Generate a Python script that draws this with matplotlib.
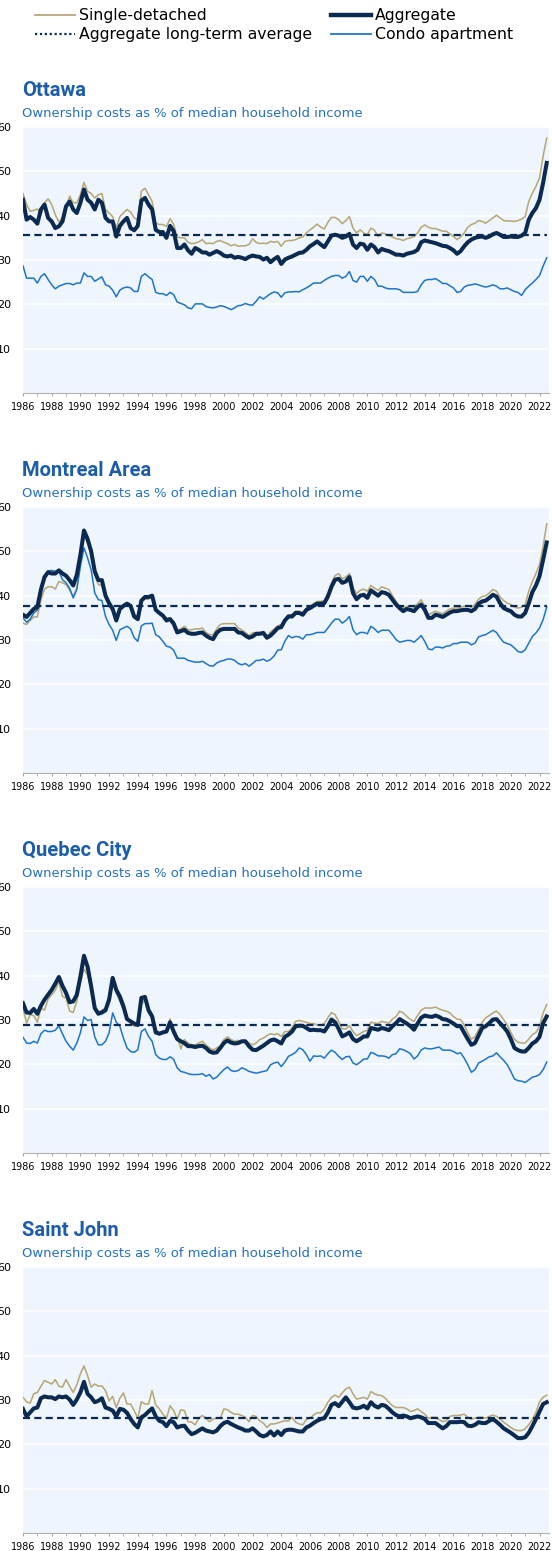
import numpy as np
import pandas as pd
import matplotlib
matplotlib.use("Agg")
import matplotlib.pyplot as plt
from matplotlib.lines import Line2D

# quarterly observations, 1986Q1 .. 2022Q3
QUARTERS = pd.period_range("1986Q1", "2022Q3", freq="Q")

ottawa_single = [
    45.0, 42.5, 41.0, 41.2, 41.5, 40.2, 42.9, 43.8, 42.5, 40.2,
    38.6, 39.5, 41.7, 44.4, 42.9, 42.9, 44.7, 47.5, 45.5, 45.0,
    44.0, 44.7, 45.0, 41.4, 40.6, 39.8, 37.2, 39.8, 40.6, 41.4,
    40.8, 39.5, 39.1, 45.5, 46.2, 44.7, 43.2, 38.3, 38.0, 38.0,
    37.6, 39.3, 38.0, 35.2, 35.0, 35.0, 34.0, 33.7, 33.8, 34.1,
    34.6, 33.7, 33.8, 33.7, 34.2, 34.4, 34.0, 33.7, 33.2, 33.5,
    33.1, 33.2, 33.2, 33.5, 34.8, 34.0, 33.7, 33.8, 33.7, 34.2,
    34.0, 34.2, 33.1, 34.2, 34.4, 34.4, 34.6, 35.0, 35.2, 36.1,
    36.8, 37.4, 38.1, 37.4, 37.0, 38.5, 39.6, 39.6, 39.1, 38.2,
    38.9, 39.8, 37.2, 36.1, 36.8, 36.1, 35.7, 37.2, 36.7, 35.3,
    36.1, 35.9, 35.5, 35.2, 34.8, 34.7, 34.4, 34.8, 35.0, 35.3,
    36.1, 37.4, 37.9, 37.4, 37.1, 37.1, 36.8, 36.5, 36.5, 35.9,
    35.3, 34.6, 35.2, 36.1, 37.4, 38.0, 38.3, 38.9, 38.7, 38.3,
    38.9, 39.5, 40.1, 39.5, 38.9, 38.8, 38.8, 38.7, 38.9, 39.2,
    39.8, 43.2, 45.1, 46.6, 48.5, 53.4, 57.5]
ottawa_aggregate = [
    43.6, 39.1, 39.7, 39.1, 38.2, 41.4, 42.5, 39.5, 38.7, 37.2,
    37.6, 38.7, 42.1, 43.2, 41.4, 40.6, 42.9, 45.9, 43.6, 42.9,
    41.4, 43.6, 42.9, 39.5, 38.7, 38.7, 35.3, 37.7, 38.7, 39.5,
    37.2, 36.7, 37.7, 43.4, 44.0, 42.5, 41.4, 36.8, 36.3, 36.3,
    35.0, 37.7, 36.5, 32.7, 32.7, 33.5, 32.2, 31.4, 32.7, 32.3,
    31.7, 31.7, 31.2, 31.6, 32.0, 31.6, 31.0, 30.8, 31.0, 30.5,
    30.7, 30.5, 30.2, 30.7, 31.0, 30.8, 30.7, 30.1, 30.5, 29.5,
    30.2, 30.7, 29.1, 30.1, 30.5, 30.8, 31.2, 31.6, 31.7, 32.3,
    33.1, 33.6, 34.2, 33.5, 32.9, 34.2, 35.5, 35.7, 35.5, 35.0,
    35.3, 35.9, 33.5, 32.7, 33.7, 33.5, 32.3, 33.5, 32.9, 31.7,
    32.5, 32.2, 32.0, 31.6, 31.2, 31.2, 31.0, 31.4, 31.6, 31.8,
    32.3, 34.0, 34.4, 34.2, 34.0, 33.8, 33.5, 33.2, 33.1, 32.7,
    32.2, 31.4, 32.0, 33.1, 34.0, 34.6, 35.0, 35.2, 35.3, 35.0,
    35.3, 35.8, 36.1, 35.7, 35.2, 35.2, 35.3, 35.2, 35.2, 35.5,
    36.1, 39.1, 40.6, 41.7, 43.6, 47.4, 51.9]
ottawa_condo = [
    28.7, 25.9, 25.9, 25.9, 24.8, 26.3, 26.9, 25.6, 24.4, 23.5,
    24.1, 24.4, 24.7, 24.7, 24.4, 24.8, 24.8, 27.1, 26.3, 26.3,
    25.2, 25.7, 26.2, 24.4, 24.1, 23.2, 21.7, 23.2, 23.7, 23.9,
    23.7, 22.9, 22.9, 26.3, 26.9, 26.2, 25.6, 22.7, 22.4, 22.4,
    22.0, 22.7, 22.2, 20.5, 20.2, 19.9, 19.2, 19.0, 20.1, 20.1,
    20.1, 19.5, 19.3, 19.2, 19.4, 19.7, 19.5, 19.2, 18.8, 19.2,
    19.7, 19.8, 20.2, 19.9, 19.8, 20.7, 21.7, 21.2, 21.8, 22.4,
    22.8, 22.6, 21.6, 22.6, 22.8, 22.8, 22.9, 22.8, 23.3, 23.7,
    24.2, 24.8, 24.8, 24.8, 25.4, 25.9, 26.3, 26.5, 26.5, 25.9,
    26.3, 27.4, 25.4, 25.0, 26.3, 26.3, 25.2, 26.3, 25.6, 24.1,
    24.1, 23.7, 23.5, 23.5, 23.5, 23.3, 22.7, 22.7, 22.7, 22.7,
    22.9, 24.4, 25.4, 25.6, 25.6, 25.8, 25.3, 24.7, 24.7, 24.2,
    23.7, 22.7, 22.9, 23.9, 24.3, 24.4, 24.6, 24.4, 24.1, 23.9,
    24.1, 24.4, 24.1, 23.5, 23.5, 23.7, 23.3, 22.9, 22.7, 22.0,
    23.3, 24.1, 24.8, 25.6, 26.5, 28.6, 30.5]

montreal_single = [
    33.8, 33.5, 34.4, 35.2, 35.2, 39.1, 41.5, 42.0, 42.0, 41.5,
    43.2, 42.9, 42.5, 41.2, 39.8, 41.7, 48.5, 53.4, 51.9, 49.6,
    44.7, 42.5, 42.3, 39.5, 37.6, 36.5, 34.2, 36.8, 37.4, 38.0,
    37.7, 35.7, 35.3, 38.7, 39.2, 39.2, 39.8, 36.8, 36.2, 35.5,
    35.0, 35.0, 34.2, 32.2, 32.5, 33.1, 32.3, 32.3, 32.5, 32.5,
    32.7, 31.7, 31.2, 31.2, 32.5, 33.5, 33.7, 33.7, 33.7, 33.7,
    32.7, 32.3, 31.7, 31.0, 31.6, 31.7, 31.7, 31.7, 30.8, 31.8,
    32.5, 33.2, 33.5, 34.7, 35.7, 35.7, 36.5, 36.5, 36.1, 37.2,
    37.6, 38.2, 38.7, 38.7, 38.9, 40.6, 42.9, 44.5, 45.0, 43.8,
    44.2, 45.0, 41.7, 40.5, 41.2, 41.5, 41.0, 42.3, 41.7, 41.2,
    42.0, 41.7, 41.4, 40.0, 38.7, 37.7, 37.2, 37.6, 37.6, 37.4,
    38.2, 39.1, 37.6, 35.7, 36.1, 36.5, 36.2, 35.9, 36.5, 37.0,
    37.2, 37.2, 37.4, 37.6, 37.7, 37.4, 38.0, 39.2, 39.8, 40.0,
    40.6, 41.4, 41.0, 39.7, 38.9, 38.3, 38.0, 37.4, 37.2, 37.4,
    38.0, 41.0, 43.2, 45.0, 47.0, 51.1, 56.2]
montreal_aggregate = [
    35.7, 35.2, 36.1, 37.0, 37.4, 41.4, 44.2, 45.3, 45.0, 45.0,
    45.7, 45.0, 44.5, 43.5, 42.3, 44.7, 49.2, 54.7, 52.8, 50.0,
    45.5, 43.5, 43.5, 40.0, 38.3, 37.0, 34.4, 37.0, 37.7, 38.2,
    37.7, 35.3, 34.7, 38.9, 39.7, 39.7, 40.0, 36.8, 36.1, 35.5,
    34.4, 34.7, 33.7, 31.7, 32.0, 32.3, 31.6, 31.4, 31.4, 31.6,
    31.7, 31.0, 30.5, 30.2, 31.6, 32.3, 32.5, 32.5, 32.5, 32.5,
    31.7, 31.6, 31.0, 30.5, 30.8, 31.4, 31.4, 31.6, 30.5, 31.0,
    31.8, 32.7, 32.9, 34.4, 35.3, 35.3, 36.1, 36.1, 35.7, 36.8,
    37.2, 37.7, 38.2, 38.2, 38.3, 39.8, 42.0, 43.6, 43.8, 42.9,
    43.2, 44.2, 40.6, 39.2, 40.0, 40.2, 39.5, 41.2, 40.6, 40.0,
    40.8, 40.6, 40.2, 39.1, 38.0, 37.2, 36.5, 37.0, 36.8, 36.5,
    37.4, 38.0, 36.8, 35.0, 35.0, 35.7, 35.5, 35.2, 35.7, 36.2,
    36.5, 36.5, 36.7, 36.8, 36.8, 36.5, 37.0, 38.2, 38.7, 38.9,
    39.5, 40.2, 39.8, 38.3, 37.2, 36.8, 36.5, 35.7, 35.3, 35.3,
    36.1, 38.3, 40.8, 42.3, 44.4, 48.1, 52.0]
montreal_condo = [
    35.0, 34.0, 34.7, 36.1, 36.7, 41.4, 43.6, 45.5, 45.7, 45.5,
    45.5, 43.6, 42.9, 41.7, 39.5, 41.4, 46.6, 50.8, 48.5, 45.9,
    40.6, 39.1, 38.9, 35.3, 33.5, 32.2, 29.9, 32.3, 32.7, 33.1,
    32.5, 30.5, 29.7, 33.2, 33.7, 33.7, 33.8, 31.2, 30.7, 29.7,
    28.6, 28.4, 27.7, 25.9, 25.9, 25.9, 25.4, 25.2, 25.0, 25.0,
    25.2, 24.7, 24.2, 24.1, 24.8, 25.2, 25.4, 25.7, 25.7, 25.4,
    24.7, 24.4, 24.7, 24.1, 24.7, 25.4, 25.4, 25.7, 25.2, 25.6,
    26.4, 27.7, 27.8, 29.7, 31.0, 30.5, 30.8, 30.7, 30.2, 31.2,
    31.2, 31.4, 31.7, 31.7, 31.7, 32.7, 33.8, 34.7, 34.7, 33.8,
    34.4, 35.3, 32.3, 31.2, 31.7, 31.7, 31.4, 33.1, 32.5, 31.7,
    32.2, 32.2, 32.2, 31.2, 30.1, 29.5, 29.7, 29.9, 29.9, 29.5,
    30.2, 31.0, 29.7, 28.0, 27.8, 28.4, 28.4, 28.2, 28.6, 28.7,
    29.2, 29.2, 29.5, 29.5, 29.5, 28.9, 29.3, 30.7, 31.0, 31.2,
    31.7, 32.2, 31.7, 30.5, 29.5, 29.2, 28.9, 28.2, 27.4, 27.2,
    27.8, 29.3, 30.8, 31.6, 32.7, 34.6, 37.4]

quebec_single = [
    32.7, 29.3, 31.2, 31.0, 29.5, 32.7, 32.2, 34.7, 35.7, 36.7,
    38.7, 35.3, 35.0, 32.0, 31.7, 34.2, 38.3, 41.5, 40.2, 36.8,
    32.7, 31.7, 32.2, 32.7, 34.2, 38.7, 36.1, 34.2, 32.3, 30.1,
    29.3, 28.6, 28.6, 33.5, 34.6, 32.7, 31.2, 27.8, 27.2, 27.4,
    27.8, 30.2, 27.1, 26.3, 23.5, 25.6, 24.8, 24.4, 24.4, 24.8,
    25.2, 24.4, 23.7, 23.2, 23.7, 24.1, 25.6, 26.2, 25.6, 25.2,
    25.4, 24.9, 25.2, 24.8, 24.4, 24.8, 25.6, 25.9, 26.5, 26.9,
    26.7, 26.9, 26.3, 27.4, 27.4, 28.2, 29.7, 29.9, 29.7, 29.5,
    29.2, 29.2, 28.9, 28.9, 29.2, 30.5, 31.7, 31.2, 29.7, 28.0,
    28.0, 28.7, 27.4, 26.5, 26.9, 27.4, 27.7, 29.5, 29.3, 29.2,
    29.7, 29.5, 29.3, 30.2, 30.8, 32.0, 31.6, 30.8, 30.1, 29.7,
    31.0, 32.2, 32.7, 32.7, 32.7, 32.9, 32.5, 32.2, 32.0, 31.6,
    30.8, 30.2, 30.1, 28.9, 27.1, 25.7, 26.2, 27.8, 29.5, 30.5,
    31.0, 31.6, 32.0, 31.2, 30.1, 28.9, 27.2, 25.7, 25.0, 24.8,
    24.8, 25.7, 26.7, 27.2, 28.6, 31.6, 33.5]
quebec_aggregate = [
    33.8, 31.7, 31.6, 32.5, 31.4, 33.2, 34.6, 35.7, 36.8, 38.2,
    39.7, 37.7, 36.1, 34.0, 34.2, 35.7, 39.8, 44.5, 42.0, 37.6,
    32.7, 31.4, 31.7, 32.2, 34.6, 39.5, 36.8, 35.3, 33.1, 30.2,
    29.7, 29.2, 28.9, 35.0, 35.2, 32.2, 30.8, 27.2, 26.9, 27.2,
    27.4, 29.5, 27.4, 25.7, 25.2, 24.8, 24.1, 24.1, 23.9, 24.1,
    24.2, 23.7, 22.9, 22.6, 22.7, 23.7, 24.8, 25.4, 24.9, 24.7,
    24.8, 25.2, 25.2, 24.1, 23.3, 23.2, 23.7, 24.2, 24.8, 25.4,
    25.6, 25.2, 24.7, 26.2, 26.7, 27.4, 28.6, 28.7, 28.7, 28.2,
    27.7, 27.8, 27.7, 27.7, 27.4, 28.6, 30.1, 29.5, 28.0, 26.3,
    26.7, 27.2, 25.7, 25.2, 25.7, 26.3, 26.3, 28.2, 28.0, 27.8,
    28.2, 28.0, 27.7, 28.6, 29.3, 30.2, 29.7, 29.2, 28.6, 27.8,
    29.2, 30.5, 31.0, 30.8, 30.7, 31.0, 30.7, 30.2, 30.1, 29.7,
    29.2, 28.6, 28.6, 27.1, 25.7, 24.4, 24.8, 26.5, 28.2, 28.6,
    29.3, 30.1, 30.2, 29.3, 28.4, 27.4, 25.7, 23.7, 23.2, 22.9,
    22.9, 23.7, 24.7, 25.2, 26.2, 29.3, 30.8]
quebec_condo = [
    26.1, 24.8, 24.7, 25.2, 24.8, 26.9, 27.7, 27.4, 27.4, 27.7,
    28.7, 26.9, 25.2, 24.1, 23.2, 24.8, 27.1, 30.7, 29.9, 30.1,
    26.2, 24.4, 24.4, 25.2, 27.1, 31.6, 29.5, 28.6, 25.9, 23.7,
    22.9, 22.7, 23.3, 27.4, 28.0, 26.3, 25.2, 22.2, 21.4, 21.1,
    21.1, 21.7, 21.1, 19.2, 18.4, 18.2, 17.9, 17.7, 17.7, 17.7,
    17.9, 17.3, 17.7, 16.7, 17.1, 18.0, 18.8, 19.4, 18.6, 18.4,
    18.6, 19.2, 18.9, 18.4, 18.2, 18.0, 18.2, 18.4, 18.6, 19.9,
    20.3, 20.5, 19.5, 20.5, 21.8, 22.2, 22.7, 23.7, 23.3, 22.2,
    20.7, 21.9, 21.8, 21.9, 21.4, 22.4, 23.2, 22.7, 21.8, 21.1,
    21.7, 21.8, 20.3, 19.9, 20.5, 21.2, 21.2, 22.7, 22.4, 21.9,
    21.9, 21.8, 21.4, 22.2, 22.4, 23.5, 23.3, 22.9, 22.4, 21.2,
    21.9, 23.2, 23.7, 23.5, 23.5, 23.7, 23.9, 23.2, 23.2, 23.2,
    22.9, 22.4, 22.6, 21.4, 19.9, 18.2, 18.8, 20.3, 20.7, 21.2,
    21.7, 21.9, 22.6, 21.7, 20.9, 19.9, 18.4, 16.7, 16.3, 16.2,
    15.9, 16.5, 17.1, 17.3, 17.7, 18.8, 20.5]

saintjohn_single = [
    30.6, 29.6, 29.3, 31.4, 31.7, 33.1, 34.4, 34.0, 33.6, 34.6,
    33.1, 32.9, 34.6, 33.1, 31.7, 33.4, 35.9, 37.7, 35.5, 32.9,
    33.6, 33.1, 33.2, 32.1, 29.8, 30.8, 28.3, 30.4, 31.6, 29.1,
    29.1, 27.6, 25.9, 29.6, 29.1, 29.1, 32.1, 28.9, 28.0, 26.8,
    25.9, 28.7, 27.6, 25.7, 27.8, 27.6, 25.1, 25.0, 24.4, 25.9,
    26.5, 25.9, 25.1, 25.7, 25.9, 25.9, 28.0, 27.8, 27.2, 26.8,
    26.8, 26.5, 26.1, 25.1, 26.5, 26.3, 25.3, 24.8, 23.8, 24.6,
    24.6, 24.8, 25.1, 25.3, 25.3, 26.1, 25.0, 24.6, 24.4, 25.6,
    25.9, 26.6, 27.1, 27.1, 28.0, 29.5, 30.6, 31.1, 30.6, 31.6,
    32.5, 32.9, 31.4, 30.2, 30.4, 30.6, 30.2, 31.9, 31.4, 31.1,
    31.0, 30.4, 29.5, 28.7, 28.3, 28.3, 28.3, 28.0, 27.4, 27.6,
    28.0, 27.4, 26.8, 25.9, 26.1, 26.1, 25.6, 25.1, 25.3, 26.3,
    26.5, 26.5, 26.6, 26.8, 26.1, 25.7, 25.9, 26.1, 26.1, 25.9,
    26.3, 26.6, 26.3, 25.7, 25.0, 24.4, 23.8, 23.3, 23.1, 23.1,
    23.5, 24.4, 25.6, 27.2, 29.6, 30.6, 31.1]
saintjohn_aggregate = [
    28.0, 26.3, 27.2, 28.1, 28.3, 30.4, 30.8, 30.6, 30.6, 30.2,
    30.8, 30.6, 30.8, 30.1, 28.9, 30.1, 31.7, 34.1, 31.4, 30.6,
    29.5, 29.8, 30.4, 28.3, 28.0, 27.6, 26.3, 28.0, 27.8, 27.1,
    25.7, 24.6, 23.8, 26.1, 26.6, 27.4, 28.1, 26.3, 25.3, 25.0,
    24.1, 25.3, 25.0, 23.8, 24.1, 24.2, 23.1, 22.3, 22.6, 23.1,
    23.6, 23.1, 22.9, 22.7, 23.1, 24.1, 24.8, 25.1, 24.6, 24.2,
    23.8, 23.5, 23.1, 23.1, 23.6, 22.9, 22.1, 21.8, 22.1, 22.9,
    22.0, 22.9, 22.1, 23.1, 23.3, 23.3, 23.1, 22.9, 22.9, 23.8,
    24.2, 24.8, 25.3, 25.7, 25.9, 27.2, 28.9, 29.3, 28.6, 29.6,
    30.6, 29.5, 28.3, 28.1, 28.3, 28.7, 28.1, 29.5, 28.7, 28.3,
    28.9, 28.7, 28.0, 27.2, 26.6, 26.3, 26.5, 26.3, 25.9, 26.1,
    26.3, 26.1, 25.7, 24.8, 24.8, 24.8, 24.2, 23.6, 24.1, 25.0,
    25.0, 25.0, 25.1, 25.0, 24.2, 24.1, 24.4, 25.0, 24.8, 24.8,
    25.3, 25.7, 25.1, 24.4, 23.6, 23.1, 22.6, 22.0, 21.4, 21.4,
    21.6, 22.6, 24.1, 25.7, 27.4, 29.1, 29.5]

CITIES = ["Ottawa", "Montreal Area", "Quebec City", "Saint John"]
SINGLE = [ottawa_single, montreal_single, quebec_single, saintjohn_single]
AGGREGATE = [ottawa_aggregate, montreal_aggregate, quebec_aggregate,
             saintjohn_aggregate]
CONDO = [ottawa_condo, montreal_condo, quebec_condo, None]
LONG_TERM_AVG = [35.6, 37.6, 28.9, 25.9]

SUBTITLE = "Ownership costs as % of median household income"
YTICKS = [10, 20, 30, 40, 50, 60]
XTICKS = list(range(1986, 2023, 2))

TAN = "#B7A877"
NAVY = "#0B2A52"
BLUE = "#1E74CC"
BG = "#EEF5FC"
TITLE_BLUE = "#1B5DAA"
SUB_BLUE = "#2470C2"

W, H = 552, 1551
years = np.array([p.year + (p.quarter - 1) / 4 for p in QUARTERS])

fig = plt.figure(figsize=(W / 100, H / 100), dpi=100)


def fx(px):
    return px / W


def fy(py):
    return 1 - py / H


left, right = 23, 549
for k, city in enumerate(CITIES):
    top = 127 + 380 * k
    bottom = top + 266
    ax = fig.add_axes([fx(left), fy(bottom), fx(right - left),
                       (bottom - top) / H])
    ax.set_facecolor(BG)
    for s in ax.spines.values():
        s.set_visible(False)
    ax.spines["bottom"].set_visible(True)
    ax.spines["bottom"].set_color("#B0B0B0")
    ax.spines["bottom"].set_linewidth(0.8)

    ax.plot(years, SINGLE[k], color=TAN, lw=1.15, zorder=3)
    if CONDO[k] is not None:
        ax.plot(years, CONDO[k], color=BLUE, lw=1.1, zorder=3)
    ax.plot(years, AGGREGATE[k], color=NAVY, lw=2.9, zorder=4,
            solid_joinstyle="round")
    ax.hlines(LONG_TERM_AVG[k], years[0], years[-1], colors=NAVY, lw=1.6,
              linestyles=(0, (3.2, 1.9)), zorder=5)

    ax.set_xlim(1986, 2022.66)
    ax.set_ylim(0, 60)
    ax.set_yticks(YTICKS)
    ax.set_yticklabels([str(v) for v in YTICKS])
    ax.grid(axis="y", color="white", lw=1.1)
    ax.set_axisbelow(True)
    ax.set_xticks(XTICKS)
    ax.set_xticks(range(1987, 2023, 2), minor=True)
    ax.tick_params(axis="x", which="both", length=2.2, color="#A8A8A8",
                   labelsize=6.9, pad=4.5)
    ax.tick_params(axis="y", length=0, labelsize=8, pad=8.6)

    fig.text(fx(22), fy(top - 36), city, color=TITLE_BLUE, fontsize=14.5,
             fontweight="bold", family=["Roboto", "DejaVu Sans"],
             va="center", ha="left")
    fig.text(fx(22), fy(top - 14), SUBTITLE, color=SUB_BLUE, fontsize=9.45,
             va="center", ha="left")

handles = [
    Line2D([], [], color=TAN, lw=1.3),
    Line2D([], [], color=NAVY, lw=1.6, linestyle=(0, (1, 1.2))),
    Line2D([], [], color=NAVY, lw=3.2),
    Line2D([], [], color=BLUE, lw=1.3),
]
labels = ["Single-detached", "Aggregate long-term average", "Aggregate",
          "Condo apartment"]
fig.legend(handles, labels, ncol=2, loc="upper left",
           bbox_to_anchor=(fx(35), fy(8)), frameon=False, fontsize=11.3,
           handlelength=2.55, handletextpad=0.25, columnspacing=1.2,
           labelspacing=0.27, borderpad=0, borderaxespad=0)

fig.savefig("out.png", dpi=100)
